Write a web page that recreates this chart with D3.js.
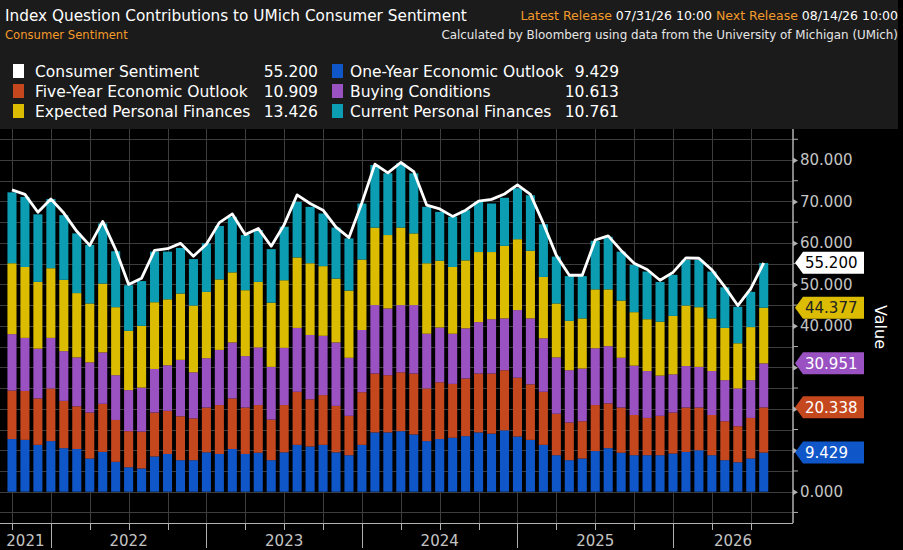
<!DOCTYPE html>
<html>
<head>
<meta charset="utf-8">
<script src="https://cdn.jsdelivr.net/npm/d3@7"></script>
<style>
  html, body { margin: 0; padding: 0; background: #000; }
  svg { display: block; font-family: "DejaVu Sans", sans-serif; }
</style>
</head>
<body>
<svg id="chart" width="903" height="550"></svg>
<script>
// monthly observations, month-end dated
const months = [
  "2021-09","2021-10","2021-11","2021-12",
  "2022-01","2022-02","2022-03","2022-04","2022-05","2022-06","2022-07","2022-08","2022-09","2022-10","2022-11","2022-12",
  "2023-01","2023-02","2023-03","2023-04","2023-05","2023-06","2023-07","2023-08","2023-09","2023-10","2023-11","2023-12",
  "2024-01","2024-02","2024-03","2024-04","2024-05","2024-06","2024-07","2024-08","2024-09","2024-10","2024-11","2024-12",
  "2025-01","2025-02","2025-03","2025-04","2025-05","2025-06","2025-07","2025-08","2025-09","2025-10","2025-11","2025-12",
  "2026-01","2026-02","2026-03","2026-04","2026-05","2026-06","2026-07"
];
const years = ["2021", "2022", "2023", "2024", "2025", "2026"];

const oneYear = [12.7,12.5,11.3,12.2, 10.5,10.3,8.0,9.6,7.2,5.9,5.6,8.5,9.1,7.6,7.6,9.5,
  9.1,10.3,9.1,9.4,7.6,9.5,11.3,10.9,11.3,9.5,8.8,11.3,
  14.3,14.3,14.6,13.8,12.2,12.7,13.0,13.4,14.3,14.0,14.8,13.3,
  12.5,11.3,8.8,7.6,8.0,9.8,10.5,9.4,8.8,8.8,8.8,9.2,
  9.6,10.0,8.8,7.6,7.1,8.0,9.429];
const fiveYear = [11.7,11.8,11.2,12.7, 11.4,10.3,11.1,11.6,10.1,8.7,8.9,10.6,10.4,10.6,10.1,10.8,
  11.8,12.2,11.2,11.5,9.8,11.4,12.8,11.4,12.0,11.2,9.5,12.7,
  14.2,13.8,14.2,14.7,12.7,13.7,13.0,13.9,14.2,14.5,14.5,14.2,
  13.4,12.8,10.0,9.1,9.0,11.1,10.8,10.9,9.7,9.0,9.5,9.9,
  10.7,10.3,9.7,9.4,8.7,9.8,10.909];
const buying = [13.6,12.8,12.0,12.2, 12.0,11.8,12.1,12.4,10.8,9.9,10.6,10.5,11.0,13.6,11.1,11.9,
  13.3,13.5,12.4,13.9,12.7,13.8,15.4,15.5,14.3,15.3,14.0,15.0,
  16.5,16.1,16.2,16.5,13.2,13.2,12.1,12.1,12.4,13.1,12.5,16.3,
  15.9,12.9,13.6,12.6,12.7,13.7,13.8,12.0,11.9,11.3,9.7,9.2,
  10.0,9.8,10.6,9.9,9.1,9.1,10.613];
const expected = [17.1,17.1,16.1,16.8, 17.2,15.5,14.2,16.6,16.4,14.3,14.9,16.1,15.9,16.0,16.1,16.0,
  17.0,16.9,15.9,15.8,15.5,16.3,17.0,17.3,16.8,15.4,16.2,17.0,
  18.7,17.7,18.7,17.3,17.0,16.1,16.1,16.4,16.9,16.2,17.5,17.1,
  16.3,14.8,13.0,11.9,12.1,14.2,13.7,13.8,12.9,12.5,13.0,14.1,
  14.6,14.4,12.7,12.6,10.9,12.8,13.426];
const current = [17.1,16.9,16.3,16.7, 15.6,14.4,14.1,14.5,13.5,11.0,10.8,12.2,11.5,11.0,11.2,11.7,
  12.9,13.4,13.3,12.5,12.9,12.9,13.4,13.6,12.7,12.3,12.6,13.5,
  15.1,14.9,15.5,14.5,13.6,11.8,12.1,12.1,12.1,11.7,11.6,12.3,
  13.4,12.7,11.3,10.8,10.2,11.7,12.7,11.8,11.4,11.5,9.6,9.9,
  11.0,11.4,11.3,9.8,8.8,8.5,10.761];
const sentiment = [72.8,71.7,67.4,70.6, 67.2,62.8,59.4,65.2,58.4,50.0,51.5,58.2,58.6,59.9,56.8,59.7,
  64.9,67.0,62.0,63.5,59.2,64.4,71.6,69.5,67.9,63.8,61.3,69.7,
  79.0,76.9,79.4,77.2,69.1,68.2,66.4,67.9,70.1,70.5,71.8,74.0,
  71.7,64.7,57.0,52.2,52.2,60.7,61.7,58.2,55.1,53.6,51.0,52.9,
  56.4,56.3,53.5,49.4,44.9,49.0,55.2];

const seriesNames = ["One-Year Economic Outlook", "Five-Year Economic Outlook", "Buying Conditions",
  "Expected Personal Finances", "Current Personal Finances"];
const seriesColors = ["#0f57c9", "#c4471d", "#9a52c2", "#dcbc00", "#0c9db2"];
const tagText = ["#fff", "#fff", "#fff", "#222", "#fff"];

const svg = d3.select("#chart");
const W = 903, H = 550;
const plot = { left: 0, right: 793, top: 129, bottom: 523 };
const fmt = d3.format(".3f");

// header panel
svg.append("rect").attr("width", W).attr("height", H).attr("fill", "#000");
svg.append("rect").attr("x", 0).attr("y", 0).attr("width", 898).attr("height", plot.top).attr("fill", "#1b1b1b");

svg.append("text").attr("x", 5).attr("y", 21).attr("fill", "#fff").attr("font-size", 15.3)
  .text("Index Question Contributions to UMich Consumer Sentiment");
svg.append("text").attr("x", 5).attr("y", 39).attr("fill", "#f39a2a").attr("font-size", 11.6)
  .text("Consumer Sentiment");

const rel = svg.append("text").attr("x", 898).attr("y", 20).attr("text-anchor", "end").attr("font-size", 12.5);
[["Latest Release ", "#f39a2a"], ["07/31/26 10:00 ", "#fff"], ["Next Release ", "#f39a2a"], ["08/14/26 10:00", "#fff"]]
  .forEach(([t, c]) => rel.append("tspan").attr("fill", c).text(t));
svg.append("text").attr("x", 898).attr("y", 39).attr("text-anchor", "end").attr("fill", "#e6e6e6").attr("font-size", 11.9)
  .text("Calculated by Bloomberg using data from the University of Michigan (UMich)");

// legend
const last = sentiment.length - 1;
const allSeries = [oneYear, fiveYear, buying, expected, current];
const legendItems = [
  { name: "Consumer Sentiment", color: "#fff", value: sentiment[last], col: 0, row: 0 },
  { name: seriesNames[1], color: seriesColors[1], value: fiveYear[last], col: 0, row: 1 },
  { name: seriesNames[3], color: seriesColors[3], value: expected[last], col: 0, row: 2 },
  { name: seriesNames[0], color: seriesColors[0], value: oneYear[last], col: 1, row: 0 },
  { name: seriesNames[2], color: seriesColors[2], value: buying[last], col: 1, row: 1 },
  { name: seriesNames[4], color: seriesColors[4], value: current[last], col: 1, row: 2 }
];
const colX = [13, 332], colTextX = [35, 350], colValX = [318, 619];
const lg = svg.append("g").attr("font-size", 15.5).attr("fill", "#fff");
legendItems.forEach(d => {
  const cy = 71 + d.row * 20;
  lg.append("rect").attr("x", colX[d.col]).attr("y", cy - 7).attr("width", 11).attr("height", 14).attr("fill", d.color);
  lg.append("text").attr("x", colTextX[d.col]).attr("y", cy + 6).text(d.name);
  lg.append("text").attr("x", colValX[d.col]).attr("y", cy + 6).attr("text-anchor", "end").text(fmt(d.value));
});

// scales
const x = d3.scaleBand().domain(months).range([5.5, 770.2]).paddingInner(0.3).paddingOuter(0.15);
const y = d3.scaleLinear().domain([0, 80]).range([491.7, 160]);
const cx = m => x(m) + x.bandwidth() / 2;

// grid
const grid = svg.append("g").attr("stroke", "#3d3d3d").attr("stroke-width", 1);
d3.range(-5, 86, 5).forEach(v => {
  grid.append("line").attr("x1", plot.left).attr("x2", plot.right)
    .attr("y1", Math.round(y(v)) + 0.5).attr("y2", Math.round(y(v)) + 0.5);
});
const quarterMonths = months.filter(m => ["03", "06", "09", "12"].includes(m.slice(5)));
quarterMonths.forEach(m => {
  const px = Math.round(cx(m)) + 0.5;
  grid.append("line").attr("x1", px).attr("x2", px).attr("y1", plot.top).attr("y2", plot.bottom);
});

// stacked bars
const rows = months.map((m, i) => {
  const r = { month: m };
  allSeries.forEach((s, k) => r[k] = s[i]);
  return r;
});
const stack = d3.stack().keys(d3.range(allSeries.length))(rows);
svg.append("g").selectAll("g").data(stack).join("g")
  .attr("fill", (d, k) => seriesColors[k])
  .selectAll("rect").data(d => d).join("rect")
  .attr("x", d => x(d.data.month))
  .attr("width", x.bandwidth())
  .attr("y", d => y(d[1]))
  .attr("height", d => y(d[0]) - y(d[1]));

// sentiment line
svg.append("path").datum(sentiment)
  .attr("fill", "none").attr("stroke", "#fff").attr("stroke-width", 2.8).attr("stroke-linejoin", "round")
  .attr("d", d3.line().x((d, i) => cx(months[i])).y(d => y(d)));

// last-value tags (cumulative stack levels + sentiment)
const cum = Array.from(d3.cumsum(allSeries.map(s => s[last])));
const tags = [{ v: sentiment[last], fill: "#fff", text: "#000" }];
[3, 2, 1, 0].forEach(k => tags.push({ v: cum[k], fill: seriesColors[k], text: tagText[k] }));

// right axis; labels hidden behind a tag are left out
const axisG = svg.append("g").attr("transform", `translate(${plot.right},0)`);
axisG.append("line").attr("x1", 0).attr("x2", 0).attr("y1", plot.top).attr("y2", plot.bottom)
  .attr("stroke", "#b0b0b0").attr("stroke-width", 1.5);
d3.range(-5, 86, 5).filter(v => v % 10 !== 0).forEach(v => {
  axisG.append("line").attr("x1", 0).attr("x2", 5).attr("y1", y(v)).attr("y2", y(v)).attr("stroke", "#b0b0b0");
});
const covered = v => tags.some(t => Math.abs(y(v) - y(t.v)) < 11);
const yAxis = d3.axisRight(y).tickValues(d3.range(0, 81, 10))
  .tickFormat(v => covered(v) ? "" : fmt(v)).tickSize(0).tickPadding(7);
axisG.call(yAxis);
axisG.select(".domain").remove();
axisG.selectAll(".tick text").attr("fill", "#c4c4c4").attr("font-size", 15)
  .attr("font-family", "DejaVu Sans, sans-serif");
axisG.selectAll(".tick").append("path").attr("d", "M0,-3L5,0L0,3Z").attr("fill", "#b0b0b0");

svg.append("text").attr("transform", "translate(875,327) rotate(90)").attr("text-anchor", "middle")
  .attr("fill", "#fff").attr("font-size", 16).text("Value");

tags.forEach(t => {
  const ty = y(t.v);
  svg.append("path").attr("fill", t.fill)
    .attr("d", `M795,${ty}L803,${ty - 11}L864,${ty - 11}L864,${ty + 11}L803,${ty + 11}Z`);
  svg.append("text").attr("x", 805).attr("y", ty + 5.5).attr("fill", t.text).attr("font-size", 15)
    .text(fmt(t.v));
});

// x axis
const xg = svg.append("g").attr("stroke", "#b0b0b0");
xg.append("line").attr("x1", plot.left).attr("x2", plot.right).attr("y1", plot.bottom + 0.5).attr("y2", plot.bottom + 0.5);
quarterMonths.forEach(m => {
  const px = Math.round(cx(m)) + 0.5;
  const isYearEnd = m.slice(5) === "12";
  xg.append("line").attr("x1", px).attr("x2", px)
    .attr("y1", plot.bottom).attr("y2", isYearEnd ? 548 : 530);
});
// position of the December bar of a year, extended past the data by whole bar steps
const decPos = yr => {
  const first = months[0];
  const idx = (+yr - +first.slice(0, 4)) * 12 + (12 - +first.slice(5));
  return cx(first) + idx * x.step();
};
years.forEach(yr => {
  const a = Math.max(plot.left, decPos(+yr - 1));
  const b = Math.min(plot.right, decPos(yr));
  svg.append("text").attr("x", (a + b) / 2).attr("y", 546).attr("text-anchor", "middle")
    .attr("fill", "#c4c4c4").attr("font-size", 15).text(yr);
});
</script>
</body>
</html>
